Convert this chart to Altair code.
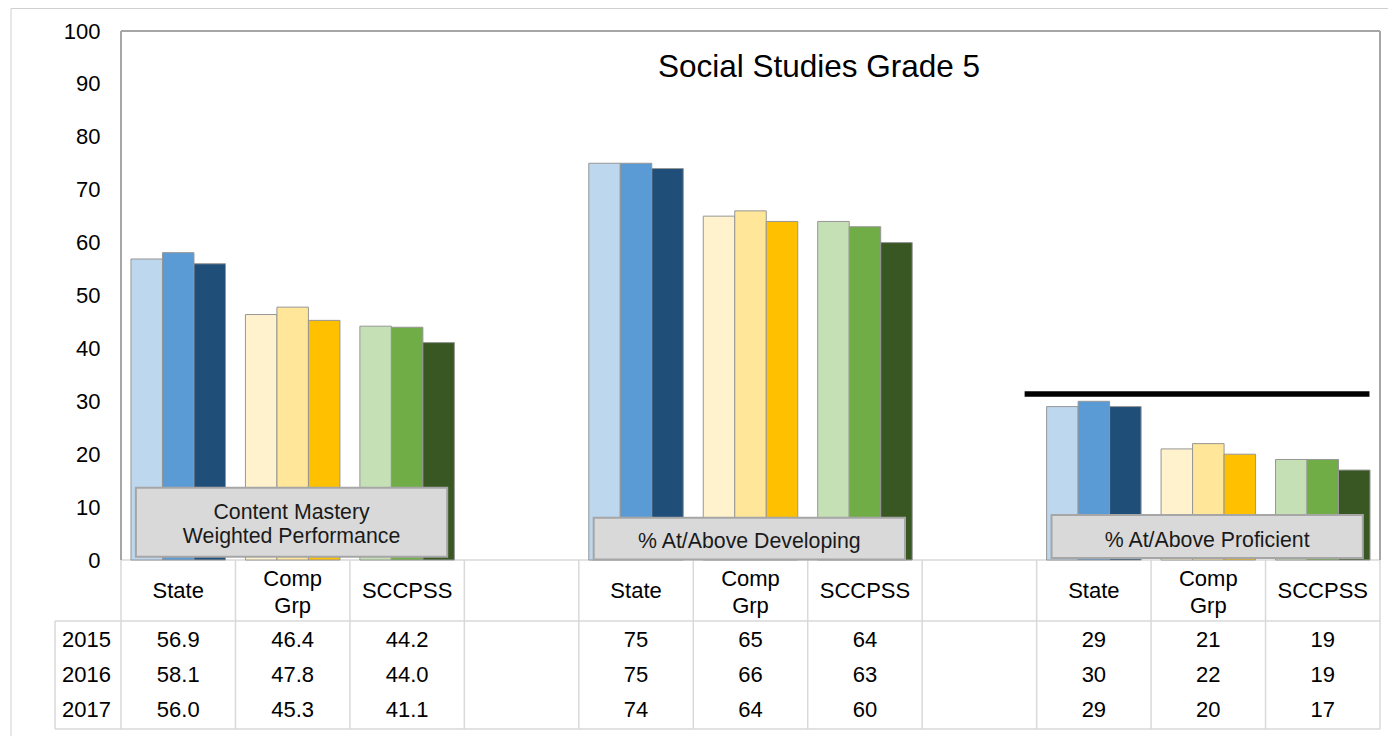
import altair as alt
import pandas as pd

# ---------------- data ----------------
title_text = "Social Studies Grade 5"
group_label_lines = [["Content Mastery", "Weighted Performance"],
                     ["% At/Above Developing"],
                     ["% At/Above Proficient"]]
entities = ["State", "Comp Grp", "SCCPSS"]
entity_header_lines = [["State"], ["Comp", "Grp"], ["SCCPSS"]]
years = ["2015", "2016", "2017"]

cm_state = [56.9, 58.1, 56.0]
cm_comp = [46.4, 47.8, 45.3]
cm_sccpss = [44.2, 44.0, 41.1]
dev_state = [75, 75, 74]
dev_comp = [65, 66, 64]
dev_sccpss = [64, 63, 60]
prof_state = [29, 30, 29]
prof_comp = [21, 22, 20]
prof_sccpss = [19, 19, 17]
value_formats = ["{:.1f}", "{:.0f}", "{:.0f}"]
proficient_target = 31.4

entity_colors = [["#BDD7EE", "#5B9BD5", "#1F4E79"],
                 ["#FFF2CC", "#FFE699", "#FFC000"],
                 ["#C5E0B4", "#70AD47", "#385723"]]

values = [[cm_state, cm_comp, cm_sccpss],
          [dev_state, dev_comp, dev_sccpss],
          [prof_state, prof_comp, prof_sccpss]]

# ---------------- layout ----------------
W, H = 1259, 529
NCOL = 11
PXC = W / NCOL          # pixels per column
PXU = H / 100.0         # pixels per y unit
FONT = "Liberation Sans"
BAR_W = 31.5 / PXC      # bar width in column units


def dy(px_below):       # pixels below plot bottom -> y units
    return -px_below / PXU


def dx(px_right):       # pixels right of plot left -> x units
    return px_right / PXC


bars, cells = [], []
for g in range(3):
    for e in range(3):
        col = g * 4 + e
        for yi in range(3):
            v = values[g][e][yi]
            x0 = col + 0.5 + (yi - 1.5) * BAR_W
            bars.append(dict(x0=x0, x1=x0 + BAR_W, v=v, c=entity_colors[e][yi]))
            cells.append(dict(x=col + 0.5, y=dy([87, 122, 157][yi]),
                              t=value_formats[g].format(v)))
bars = pd.DataFrame(bars)
cells = pd.DataFrame(cells)

headers = []
for g in range(3):
    for e in range(3):
        lines = entity_header_lines[e]
        bases = [37.5] if len(lines) == 1 else [25.5, 52.5]
        for ln, b in zip(lines, bases):
            headers.append(dict(x=g * 4 + e + 0.5, y=dy(b), t=ln))
headers = pd.DataFrame(headers)

year_x = dx(-34.5)
year_df = pd.DataFrame(dict(x=[year_x] * 3, y=[dy(b) for b in [87, 122, 157]], t=years))

# annotation boxes for the three measures
box_tops = [13.67, 8.0, 8.5]
box_bottoms = [0.6, 0.1, 0.4]
box_text_base = [[7.66, 3.21], [2.27], [2.51]]
boxes, box_text = [], []
for g in range(3):
    boxes.append(dict(x0=g * 4 + 0.13, x1=g * 4 + 2.85, y0=box_bottoms[g], y1=box_tops[g]))
    for ln, b in zip(group_label_lines[g], box_text_base[g]):
        box_text.append(dict(x=g * 4 + 1.49, y=b, t=ln))
boxes = pd.DataFrame(boxes)
box_text = pd.DataFrame(box_text)

target_df = pd.DataFrame(dict(x0=[8 - 0.105], x1=[8 + 2.908], y=[proficient_target]))

# table grid
hb, tb = dy(61), dy(169)
yc = dx(-66)
grid = []
for c in range(NCOL + 1):
    grid.append(dict(x0=c, x1=c, y0=0, y1=tb))
grid.append(dict(x0=yc, x1=yc, y0=hb, y1=tb))
grid.append(dict(x0=0, x1=NCOL, y0=0, y1=0))
grid.append(dict(x0=yc, x1=NCOL, y0=hb, y1=hb))
grid.append(dict(x0=yc, x1=NCOL, y0=tb, y1=tb))
grid = pd.DataFrame(grid)

frame = pd.DataFrame([dict(x0=0, x1=0, y0=0, y1=100),
                      dict(x0=0, x1=NCOL, y0=100, y1=100),
                      dict(x0=NCOL, x1=NCOL, y0=0, y1=100)])

ox, oy = dx(-110), (H + 23 - 0.5) / PXU
outer = pd.DataFrame([dict(x0=ox, x1=ox, y0=oy, y1=dy(200)),
                      dict(x0=ox, x1=dx(1270), y0=oy, y1=oy)])

title_df = pd.DataFrame(dict(x=[dx(698)], y=[91.36], t=[title_text]))

# ---------------- chart ----------------
xs = alt.Scale(domain=[0, NCOL], nice=False, zero=False)
ys = alt.Scale(domain=[0, 100], nice=False, zero=False)
yaxis = alt.Axis(values=list(range(0, 101, 10)), labelFontSize=22, labelColor="#000000",
                 labelFont=FONT, labelPadding=21, ticks=False, domain=False, grid=False,
                 title=None)


def X(f):
    return alt.X(f, type="quantitative", scale=xs, axis=None)


def Y(f):
    return alt.Y(f, type="quantitative", scale=ys, axis=yaxis)


bar_layer = alt.Chart(bars).mark_bar(stroke="#969696", strokeWidth=1).encode(
    x=X("x0"), x2="x1",
    y=Y("v"), y2=alt.datum(0),
    fill=alt.Fill("c:N", scale=None),
)


def rules(df, color, width):
    return alt.Chart(df).mark_rule(color=color, strokeWidth=width).encode(
        x=X("x0"), x2="x1", y=Y("y0"), y2="y1")


grid_layer = rules(grid, "#d9d9d9", 1.5)
frame_layer = rules(frame, "#a6a6a6", 2)
outer_layer = rules(outer, "#d0d0d0", 1)

box_layer = alt.Chart(boxes).mark_rect(fill="#d9d9d9", stroke="#a6a6a6", strokeWidth=2).encode(
    x=X("x0"), x2="x1", y=Y("y0"), y2="y1")


def texts(df, size, color="#000000"):
    return alt.Chart(df).mark_text(font=FONT, fontSize=size, color=color, align="center",
                                   baseline="alphabetic").encode(
        x=X("x"), y=Y("y"), text="t:N")


target_layer = alt.Chart(target_df).mark_rule(color="#000000", strokeWidth=5.5).encode(
    x=X("x0"), x2="x1", y=Y("y"))

chart = alt.layer(
    outer_layer, grid_layer, bar_layer, frame_layer, box_layer,
    texts(box_text, 21.3, "#1a1a1a"), target_layer,
    texts(cells, 22), texts(headers, 22), texts(year_df, 22),
    texts(title_df, 31.5),
).properties(
    width=W, height=H,
    autosize=alt.AutoSizeParams(type="none"),
    padding={"left": 113, "top": 23, "right": 8, "bottom": 176},
).configure_view(stroke=None)

chart.save("out.html", embed_options={"renderer": "svg", "actions": False})
